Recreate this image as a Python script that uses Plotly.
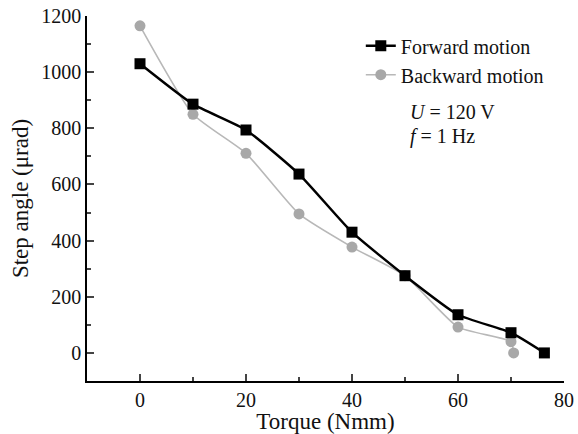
import plotly.graph_objects as go

fwd_x = [0, 10, 20, 30, 40, 50, 60, 70, 76.3]
fwd_y = [1030, 886, 794, 637, 430, 275, 136, 72, 0]
bwd_x = [0, 10, 20, 30, 40, 50, 60, 70, 70.5]
bwd_y = [1165, 850, 711, 495, 377, 275, 92, 40, 0]

FONT = "Liberation Serif, Times New Roman, serif"

fig = go.Figure()
fig.add_trace(go.Scatter(
    x=bwd_x, y=bwd_y, mode="lines+markers", name="Backward motion",
    line=dict(color="#b8b8b8", width=1.6, shape="spline", smoothing=0.5),
    marker=dict(symbol="circle", size=11, color="#a8a8a8"),
    legendrank=2,
))
fig.add_trace(go.Scatter(
    x=fwd_x, y=fwd_y, mode="lines+markers", name="Forward motion",
    line=dict(color="#000000", width=2.5, shape="spline", smoothing=0.5),
    marker=dict(symbol="square", size=11, color="#000000"),
    legendrank=1,
))

fig.update_layout(
    width=578, height=434,
    margin=dict(l=87, r=14, t=16, b=53, autoexpand=False),
    paper_bgcolor="white", plot_bgcolor="white",
    font=dict(family=FONT, size=19, color="#111111"),
    legend=dict(x=0.574, y=0.972, xanchor="left", yanchor="top",
                bgcolor="rgba(0,0,0,0)", font=dict(size=20),
                tracegroupgap=0, itemwidth=30),
    annotations=[
        dict(text="<i>U</i> = 120 V", x=0.673, y=0.738, xref="paper", yref="paper",
             xanchor="left", yanchor="middle", showarrow=False, font=dict(size=20)),
        dict(text="<i>f</i> = 1 Hz", x=0.673, y=0.671, xref="paper", yref="paper",
             xanchor="left", yanchor="middle", showarrow=False, font=dict(size=20)),
    ],
)
fig.update_xaxes(
    range=[-10, 80], dtick=20, tick0=0, ticks="inside", ticklen=7, tickwidth=1.5,
    showline=True, linecolor="black", linewidth=1.5, showgrid=False, zeroline=False,
    minor=dict(dtick=10, tick0=0, ticks="inside", ticklen=4, tickwidth=1.5, showgrid=False),
    tickfont=dict(size=20), automargin=False,
    title=dict(text="Torque (Nmm)", standoff=10),
)
fig.update_yaxes(
    range=[-100, 1200], dtick=200, tick0=0, ticks="inside", ticklen=7, tickwidth=1.5,
    showline=True, linecolor="black", linewidth=1.5, showgrid=False, zeroline=False,
    minor=dict(dtick=100, tick0=0, ticks="inside", ticklen=4, tickwidth=1.5, showgrid=False),
    tickfont=dict(size=20), automargin=False,
    title=dict(text="Step angle (μrad)", standoff=6),
)

fig.write_html(
    "out.html",
    config={"displayModeBar": False},
    post_script="document.body.style.margin='0';document.body.style.padding='0';",
)
